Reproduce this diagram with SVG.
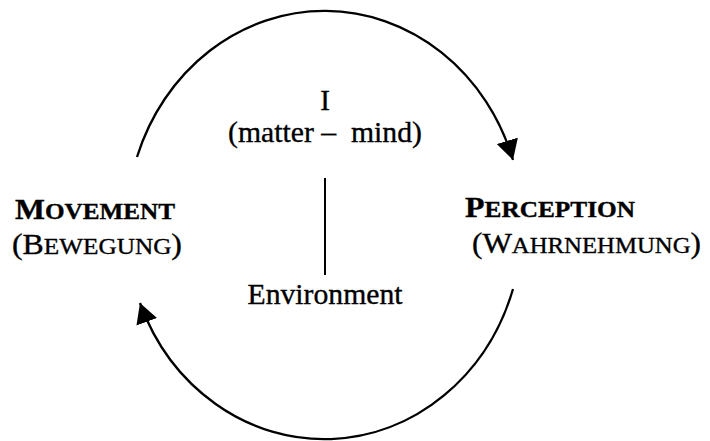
<svg xmlns="http://www.w3.org/2000/svg" width="710" height="441" viewBox="0 0 710 441">
<style>
  text { font-family: "Liberation Serif", "Times New Roman", serif; fill: #000; stroke: #000; stroke-width: 0.35; }
  .lbl { font-size: 29px; }
  .sc { font-size: 23px; }
  .b { font-weight: bold; }
  .arc { fill: none; stroke: #000; stroke-width: 2.3; }
</style>
<defs>
  <marker id="ah" viewBox="0 -11 20 22" refX="20" refY="0" markerWidth="20" markerHeight="22" markerUnits="userSpaceOnUse" orient="auto">
    <path d="M0,-11 L20,0 L0,11 z" fill="#000"/>
  </marker>
</defs>
<rect width="710" height="441" fill="#fff"/>
<g id="connectors">
  <path class="arc" d="M137,157 A198,215 0 0 1 513,160" marker-end="url(#ah)"/>
  <path class="arc" d="M513,289 A198,215 0 0 1 140,303" marker-end="url(#ah)"/>
  <line x1="325" y1="178" x2="325" y2="275" stroke="#000" stroke-width="2"/>
</g>
<g id="movement">
  <text class="lbl b" x="15" y="219" textLength="160" lengthAdjust="spacingAndGlyphs">M<tspan class="sc">OVEMENT</tspan></text>
  <text class="lbl" x="12" y="254" textLength="170" lengthAdjust="spacingAndGlyphs">(B<tspan class="sc">EWEGUNG</tspan>)</text>
</g>
<g id="perception">
  <text class="lbl b" x="465" y="217" textLength="170" lengthAdjust="spacingAndGlyphs">P<tspan class="sc">ERCEPTION</tspan></text>
  <text class="lbl" x="472" y="253" textLength="229" lengthAdjust="spacingAndGlyphs">(W<tspan class="sc">AHRNEHMUNG</tspan>)</text>
</g>
<g id="self">
  <text class="lbl" x="325" y="110" text-anchor="middle">I</text>
  <text class="lbl" x="325" y="142" text-anchor="middle" xml:space="preserve" textLength="194" lengthAdjust="spacingAndGlyphs">(matter –  mind)</text>
</g>
<g id="environment">
  <text class="lbl" x="325" y="304" text-anchor="middle" textLength="155" lengthAdjust="spacingAndGlyphs">Environment</text>
</g>
</svg>
